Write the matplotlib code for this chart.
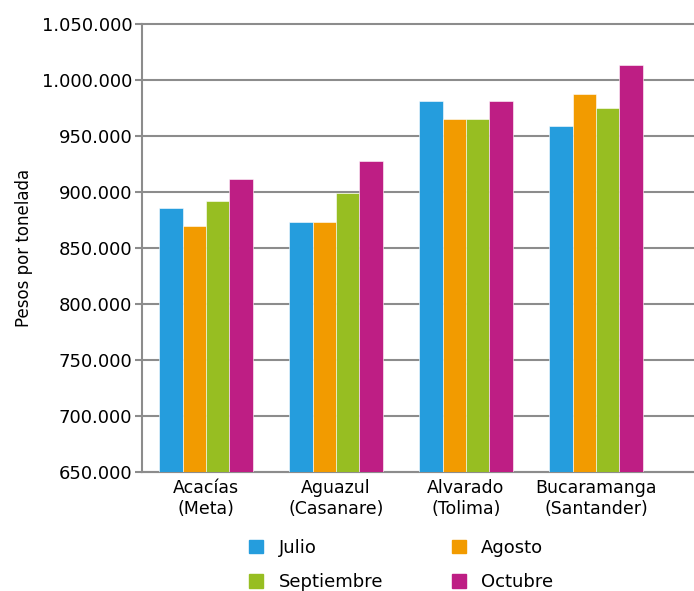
import numpy as np
import matplotlib.pyplot as plt
from matplotlib.patches import Patch
from matplotlib.ticker import FuncFormatter

categorias = ["Acacías\n(Meta)", "Aguazul\n(Casanare)", "Alvarado\n(Tolima)", "Bucaramanga\n(Santander)"]
meses = ["Julio", "Agosto", "Septiembre", "Octubre"]
julio = [886000, 873000, 981000, 959000]
agosto = [870000, 873000, 965000, 987500]
septiembre = [892000, 899000, 965000, 975000]
octubre = [912000, 928000, 981000, 1013000]
colores = ["#259DDD", "#F29B00", "#97BE22", "#BE1E84"]

series = [julio, agosto, septiembre, octubre]
gris = "#8c8c8c"

fig = plt.figure(figsize=(6.94, 5.91), dpi=100)
ax = fig.add_axes([0.2046, 0.2014, 0.7954, 0.758])

x = np.arange(len(categorias))
w = 0.18
for i, s in enumerate(series):
    ax.bar(x + (i - 1.5) * w, s, width=w, color=colores[i], edgecolor="white",
           linewidth=0.4, zorder=3)

ax.set_ylim(650000, 1050000)
ax.set_xlim(-0.492, 3.754)
ax.set_yticks(np.arange(650000, 1050001, 50000))
ax.yaxis.set_major_formatter(FuncFormatter(lambda v, p: f"{int(v):,}".replace(",", ".")))
ax.grid(axis="y", color=gris, linewidth=1.5, zorder=0)
for gl in ax.get_ygridlines():
    gl.set_clip_on(False)
ax.set_xticks(x)
ax.set_xticklabels(categorias, fontsize=12.5, linespacing=1.25)
ax.tick_params(axis="x", length=0, pad=5)
ax.tick_params(axis="y", length=5, width=1.5, color=gris, labelsize=13, pad=2)

for sp in ["top", "right"]:
    ax.spines[sp].set_visible(False)
ax.spines["left"].set_color(gris)
ax.spines["left"].set_linewidth(1.5)
ax.spines["bottom"].set_color(gris)
ax.spines["bottom"].set_linewidth(1.5)

ax.set_ylabel("Pesos por tonelada", fontsize=12, labelpad=6)

orden = [0, 2, 1, 3]
handles = [Patch(color=colores[i]) for i in orden]
fig.legend(handles, [meses[i] for i in orden], ncol=2, loc="center",
           bbox_to_anchor=(0.578, 0.044), frameon=False, fontsize=13,
           handlelength=0.78, handleheight=0.78, columnspacing=3.8,
           handletextpad=0.85, labelspacing=0.9)

fig.savefig("out.png", dpi=100)
